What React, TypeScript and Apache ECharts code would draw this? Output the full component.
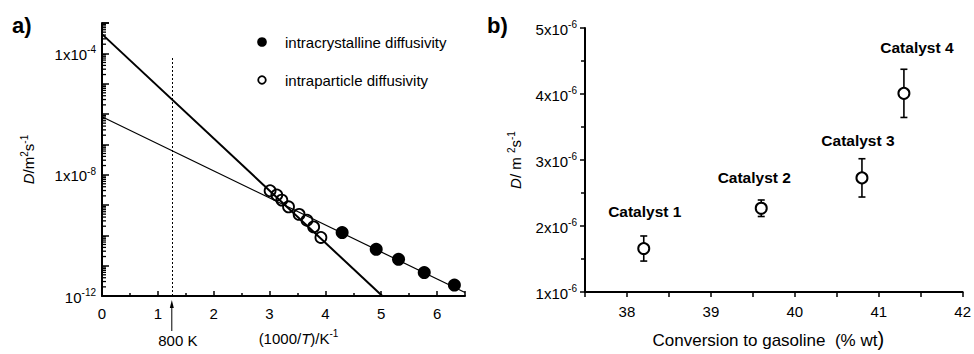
import React, { useEffect, useRef } from "react";
import * as echarts from "echarts";

// ---- Panel a) Arrhenius plot: x = 1000/T (K^-1), y = D (m^2 s^-1, log scale)
const intracrystallineX = [4.3, 4.91, 5.31, 5.77, 6.31];
const intracrystallineD = [1.23e-10, 3.47e-11, 1.62e-11, 5.9e-12, 2.3e-12];

const intraparticleX = [3.01, 3.13, 3.22, 3.34, 3.53, 3.67, 3.79, 3.92];
const intraparticleD = [2.95e-9, 2.14e-9, 1.45e-9, 8.7e-10, 4.9e-10, 3.16e-10, 1.9e-10, 8.5e-11];

// Extrapolated Arrhenius fits (end points)
const intraparticleFitX = [0, 5.02];
const intraparticleFitD = [4.3e-4, 1e-12];
const intracrystallineFitX = [0, 6.5];
const intracrystallineFitD = [8.1e-7, 1.3e-12];

// 800 K reference: 1000/800
const refTempX = 1.25;
const refTempTopD = 7.7e-5;

// Labelled decades on the log axis
const logLabelExponents = [-12, -8, -4];
const logLabelMantissas = ["10", "1x10", "1x10"];

// ---- Panel b) D vs conversion to gasoline; D in units of 10^-6 m^2 s^-1
const catalysts = ["Catalyst 1", "Catalyst 2", "Catalyst 3", "Catalyst 4"];
const conversion = [38.2, 39.6, 40.8, 41.3];
const diffusivity = [1.66, 2.27, 2.73, 4.01];
const diffusivityErr = [0.19, 0.125, 0.29, 0.365];
const diffTickLabels = ["1", "2", "3", "4", "5"];

// label placement relative to each catalyst marker
const catalystLabelOffsets = [
  [1, -37],
  [-7, -31],
  [-4, -37],
  [13, -46],
];

const FONT = '"Liberation Sans", Arial, Helvetica, sans-serif';

const baseTok = {
  fontSize: 15,
  fontFamily: FONT,
  color: "#000",
  verticalAlign: "bottom",
  lineHeight: 17,
  padding: [5, 0, 0, 0],
};
const rich = {
  n: baseTok,
  i: { ...baseTok, fontStyle: "italic" },
  s: { fontSize: 10, fontFamily: FONT, color: "#000", verticalAlign: "top", lineHeight: 11 },
  big: { ...baseTok, fontSize: 17 },
  bigp: { ...baseTok, fontSize: 20 },
};

// minor log ticks (2..9 x 10^n) between the labelled decades
const logMinorTicks: number[] = [];
for (let e = -12; e < -3; e++) {
  for (let k = 2; k <= 9; k++) logMinorTicks.push(k * Math.pow(10, e));
}

const black = "#000";

export default function App() {
  const ref = useRef<HTMLDivElement>(null);

  useEffect(() => {
    document.body.style.margin = "0";
    const chart = echarts.init(ref.current!, undefined, { renderer: "svg" });

    const axisLine = { onZero: false, lineStyle: { color: black, width: 2 } };

    const option: any = {
      animation: false,
      backgroundColor: "#fff",
      grid: [
        { left: 102, top: 23, width: 363, height: 273 },
        { left: 585, top: 28, width: 381, height: 268 },
      ],
      xAxis: [
        {
          gridIndex: 0,
          type: "value",
          min: 0,
          max: 6.5,
          interval: 1,
          axisLine,
          axisTick: { inside: true, length: 5, lineStyle: { color: black, width: 1.5 } },
          minorTick: { show: true, splitNumber: 2, length: 3, lineStyle: { color: black, width: 1.5 } },
          splitLine: { show: false },
          axisLabel: {
            color: black,
            fontSize: 15,
            fontFamily: FONT,
            margin: 10,
            formatter: (v: number) => (Number.isInteger(v) ? String(v) : ""),
          },
          name: "{n|(1000/}{i|T}{n|)/K}{s|-1}",
          nameLocation: "middle",
          nameGap: 26,
          nameTextStyle: { rich, padding: [0, 0, 0, 30] },
        },
        {
          gridIndex: 1,
          type: "value",
          min: 37.5,
          max: 42,
          interval: 0.5,
          axisLine,
          axisTick: { inside: false, length: 5, lineStyle: { color: black, width: 1.5 } },
          splitLine: { show: false },
          axisLabel: {
            color: black,
            fontSize: 15,
            fontFamily: FONT,
            margin: 12,
            formatter: (v: number) => (Number.isInteger(v) ? String(v) : ""),
          },
          name: "{big|Conversion to gasoline  (% wt}{bigp|)}",
          nameLocation: "middle",
          nameGap: 32,
          nameTextStyle: { rich, padding: [0, 11, 0, 0] },
        },
      ],
      yAxis: [
        {
          gridIndex: 0,
          type: "log",
          logBase: 10,
          min: 1e-12,
          max: 1e-3,
          splitNumber: 9,
          axisLine,
          axisTick: { inside: true, length: 7, lineStyle: { color: black, width: 1.5 } },
          splitLine: { show: false },
          axisLabel: {
            margin: 6,
            rich,
            formatter: (v: number) => {
              const e = Math.round(Math.log10(v));
              const idx = logLabelExponents.indexOf(e);
              return idx < 0 ? "" : `{n|${logLabelMantissas[idx]}}{s|${e}}`;
            },
          },
          name: "{i|D}{n|/m}{s|2}{n|s}{s|-1}",
          nameLocation: "middle",
          nameRotate: 90,
          nameGap: 66,
          nameTextStyle: { rich },
        },
        {
          gridIndex: 1,
          type: "value",
          min: 1,
          max: 5,
          interval: 1,
          axisLine,
          axisTick: { inside: false, length: 5, lineStyle: { color: black, width: 1.5 } },
          minorTick: { show: true, splitNumber: 2, length: 4, lineStyle: { color: black, width: 1.5 } },
          splitLine: { show: false },
          axisLabel: {
            margin: 8,
            rich,
            formatter: (v: number) => `{n|${diffTickLabels[Math.round(v) - 1]}x10}{s|-6}`,
          },
          name: "{i|D}{n|/ m }{s|2}{n|s}{s|-1}",
          nameLocation: "middle",
          nameRotate: 90,
          nameGap: 62,
          nameTextStyle: { rich },
        },
      ],
      series: [
        {
          name: "intraparticle fit",
          type: "line",
          xAxisIndex: 0,
          yAxisIndex: 0,
          symbol: "none",
          lineStyle: { color: black, width: 2 },
          data: intraparticleFitX.map((x, i) => [x, intraparticleFitD[i]]),
          markLine: {
            silent: true,
            symbol: "none",
            label: { show: false },
            lineStyle: { color: black, width: 1, type: [2, 2] },
            data: [[{ coord: [refTempX, 1e-12] }, { coord: [refTempX, refTempTopD] }]],
          },
          z: 2,
        },
        {
          name: "intracrystalline fit",
          type: "line",
          xAxisIndex: 0,
          yAxisIndex: 0,
          symbol: "none",
          lineStyle: { color: black, width: 1.2 },
          data: intracrystallineFitX.map((x, i) => [x, intracrystallineFitD[i]]),
          z: 2,
        },
        {
          name: "intraparticle diffusivity",
          type: "scatter",
          xAxisIndex: 0,
          yAxisIndex: 0,
          symbol: "circle",
          symbolSize: 11,
          itemStyle: { color: "rgba(255,255,255,0)", borderColor: black, borderWidth: 1.8, opacity: 1 },
          data: intraparticleX.map((x, i) => [x, intraparticleD[i]]),
          z: 3,
        },
        {
          name: "intracrystalline diffusivity",
          type: "scatter",
          xAxisIndex: 0,
          yAxisIndex: 0,
          symbol: "circle",
          symbolSize: 13,
          itemStyle: { color: black, opacity: 1 },
          data: intracrystallineX.map((x, i) => [x, intracrystallineD[i]]),
          z: 3,
        },
        {
          name: "log minor ticks",
          type: "custom",
          xAxisIndex: 0,
          yAxisIndex: 0,
          silent: true,
          data: logMinorTicks.map((v) => [0, v]),
          renderItem: (_p: any, api: any) => {
            const pt = api.coord([0, api.value(1)]);
            return {
              type: "line",
              shape: { x1: pt[0], y1: pt[1], x2: pt[0] + 4, y2: pt[1] },
              style: { stroke: black, lineWidth: 1.3 },
            };
          },
          z: 4,
        },
        {
          name: "error bars",
          type: "custom",
          xAxisIndex: 1,
          yAxisIndex: 1,
          silent: true,
          data: conversion.map((x, i) => [x, diffusivity[i] - diffusivityErr[i], diffusivity[i] + diffusivityErr[i]]),
          renderItem: (_p: any, api: any) => {
            const lo = api.coord([api.value(0), api.value(1)]);
            const hi = api.coord([api.value(0), api.value(2)]);
            const w = 3.5;
            const st = { stroke: black, lineWidth: 1.6 };
            return {
              type: "group",
              children: [
                { type: "line", shape: { x1: lo[0], y1: lo[1], x2: hi[0], y2: hi[1] }, style: st },
                { type: "line", shape: { x1: hi[0] - w, y1: hi[1], x2: hi[0] + w, y2: hi[1] }, style: st },
                { type: "line", shape: { x1: lo[0] - w, y1: lo[1], x2: lo[0] + w, y2: lo[1] }, style: st },
              ],
            };
          },
          z: 2,
        },
        {
          name: "catalysts",
          type: "scatter",
          xAxisIndex: 1,
          yAxisIndex: 1,
          symbol: "circle",
          symbolSize: 11,
          itemStyle: { color: "#fff", borderColor: black, borderWidth: 2, opacity: 1 },
          data: conversion.map((x, i) => ({
            value: [x, diffusivity[i]],
            label: { offset: catalystLabelOffsets[i] },
          })),
          label: {
            show: true,
            position: "inside",
            color: black,
            fontSize: 15.5,
            fontWeight: "bold",
            fontFamily: FONT,
            formatter: (p: any) => catalysts[p.dataIndex],
          },
          z: 3,
        },
      ],
      graphic: [
        {
          id: "tagA",
          type: "text",
          left: 12,
          top: 14,
          style: { text: "a)", fontSize: 22, fontWeight: "bold", fontFamily: FONT, fill: black },
        },
        {
          id: "tagB",
          type: "text",
          left: 487,
          top: 14,
          style: { text: "b)", fontSize: 22, fontWeight: "bold", fontFamily: FONT, fill: black },
        },
        { id: "lgDot1", type: "circle", shape: { cx: 262, cy: 42, r: 4.8 }, style: { fill: black } },
        {
          id: "lgTxt1",
          type: "text",
          x: 285,
          y: 42,
          style: { text: "intracrystalline diffusivity", fontSize: 15, fontFamily: FONT, fill: black, verticalAlign: "middle" },
        },
        {
          id: "lgDot2",
          type: "circle",
          shape: { cx: 262, cy: 80, r: 3.8 },
          style: { fill: "#fff", stroke: black, lineWidth: 1.8 },
        },
        {
          id: "lgTxt2",
          type: "text",
          x: 285,
          y: 80,
          style: { text: "intraparticle diffusivity", fontSize: 15, fontFamily: FONT, fill: black, verticalAlign: "middle" },
        },
      ],
    };

    chart.setOption(option);

    // 800 K marker under the x axis, placed through the axis scale
    const ax = chart.convertToPixel({ xAxisIndex: 0 }, refTempX) as number;
    chart.setOption({
      graphic: [
        {
          id: "arrowShaft",
          type: "line",
          shape: { x1: ax, y1: 331, x2: ax, y2: 306 },
          style: { stroke: black, lineWidth: 1 },
        },
        {
          id: "arrowHead",
          type: "polygon",
          shape: { points: [[ax, 300], [ax - 2, 308], [ax + 2, 308]] },
          style: { fill: black },
        },
        {
          id: "arrowText",
          type: "text",
          x: ax + 6,
          y: 340,
          style: { text: "800 K", fontSize: 15, fontFamily: FONT, fill: black, align: "center", verticalAlign: "middle" },
        },
      ],
    });

    return () => chart.dispose();
  }, []);

  return <div ref={ref} style={{ position: "fixed", left: 0, top: 0, width: 974, height: 354 }} />;
}
